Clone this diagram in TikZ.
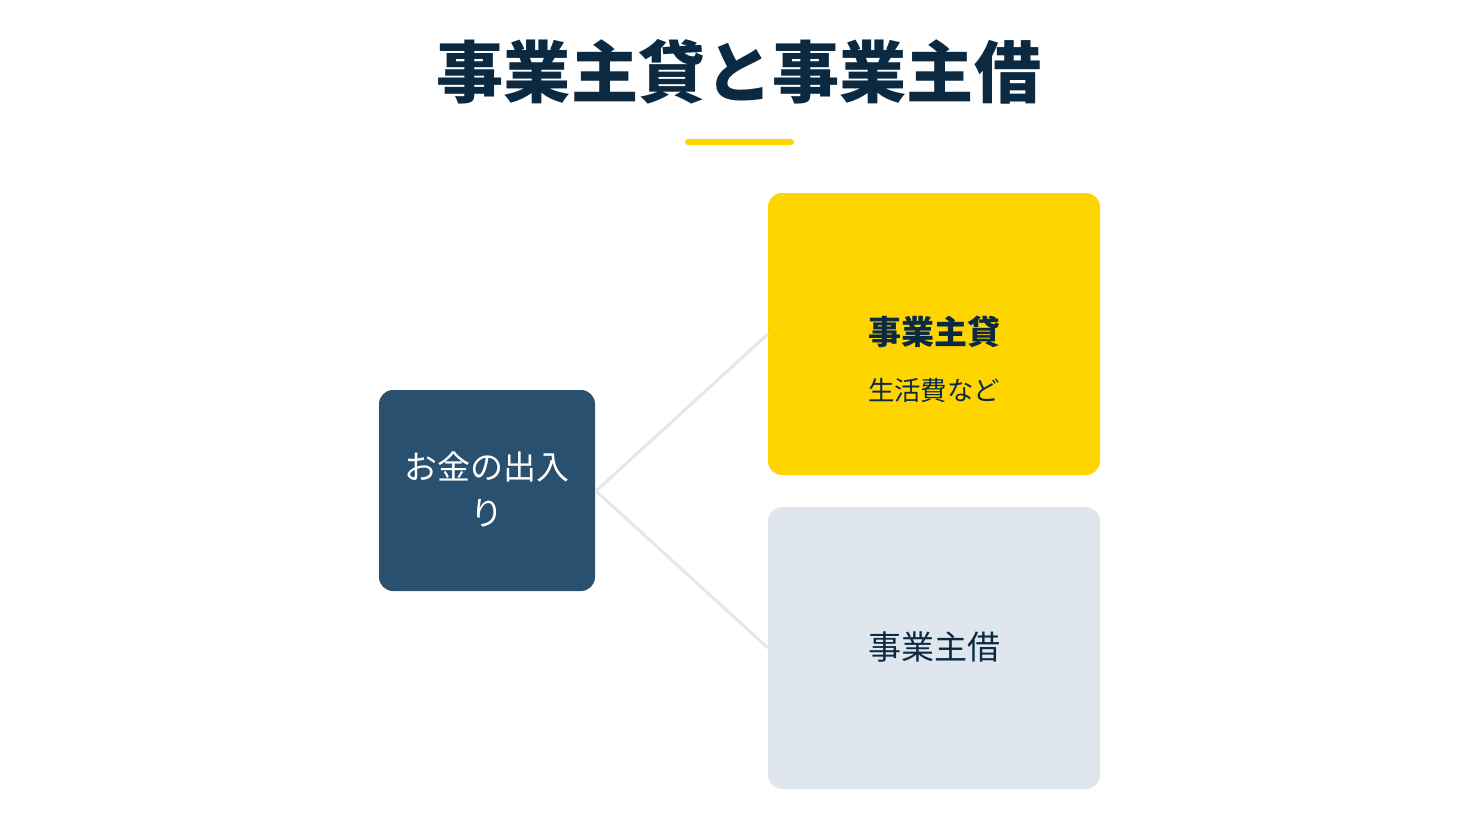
\documentclass[tikz,border=0pt]{standalone}
\usepackage{fontspec}
\setmainfont{Noto Sans CJK JP}
\definecolor{navy}{HTML}{0B2A42}
\definecolor{boxblue}{HTML}{2A5070}
\definecolor{gold}{HTML}{FFD500}
\definecolor{pale}{HTML}{E0E6EE}
\definecolor{linegray}{HTML}{E6E7EA}
\begin{document}
\begin{tikzpicture}[x=0.5pt,y=-0.5pt,
  card/.style={rounded corners=7pt,inner sep=0pt,anchor=north west},
  link/.style={draw=linegray,line width=1.5pt}]
\useasboundingbox[fill=white] (0,0) rectangle (1480,832);
% title
\node[font=\fontsize{33.6pt}{38pt}\selectfont\bfseries,text=navy] (title) at (739,72) {事業主貸と事業主借};
\draw[gold,line width=3pt,line cap=round] (688,142) coordinate (ul1) -- (791,142) coordinate (ul2);
% boxes
\path[card,fill=boxblue] (379,390) rectangle (595,591);
\node[inner sep=0pt] (src) at (487,490.5) {};
\path[card,fill=gold] (768,193) rectangle (1100,475);
\node[inner sep=0pt] (lend) at (934,334) {};
\path[card,fill=pale] (768,507) rectangle (1100,789);
\node[inner sep=0pt] (borrow) at (934,648) {};
% connectors
\coordinate (srcE) at (596,491);
\coordinate (lendW) at (768,334);
\coordinate (borrowW) at (768,648);
\draw[link] (srcE) -- (lendW);
\draw[link] (srcE) -- (borrowW);
% texts
\node[text=white,font=\fontsize{16.5pt}{23pt}\selectfont,align=center] (srct) at (487,489) {お金の出入\\り};
\node[text=navy,font=\fontsize{16.5pt}{20pt}\selectfont\bfseries] (lendt) at (934,332) {事業主貸};
\node[text=navy,font=\fontsize{13.2pt}{16pt}\selectfont] (lends) at (934,390) {生活費など};
\node[text=navy,font=\fontsize{16.5pt}{20pt}\selectfont] (borrowt) at (934,647) {事業主借};
\end{tikzpicture}
\end{document}
